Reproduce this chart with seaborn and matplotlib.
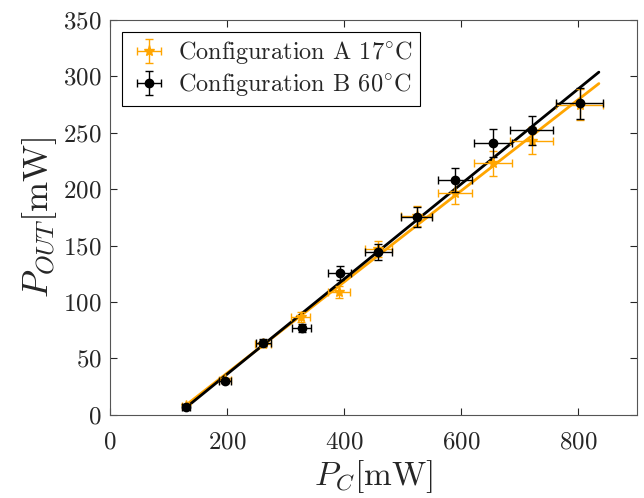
import numpy as np
import pandas as pd
import seaborn as sns
import matplotlib
matplotlib.use("Agg")
import matplotlib.pyplot as plt

# Data
pc_a = [129, 196, 261, 326, 391, 458, 524, 589, 654, 720, 802]
pout_a = [8, 31, 63, 87, 109, 147, 176, 197, 223, 243, 275]
xerr_a = [6.5, 9.8, 13.1, 16.3, 19.6, 22.9, 26.2, 29.5, 32.7, 36.0, 40.1]
yerr_a = [0.4, 1.6, 3.2, 4.4, 5.5, 7.4, 8.8, 9.9, 11.2, 12.2, 13.8]

pc_b = [130, 196, 262, 327, 392, 458, 524, 589, 654, 720, 802]
pout_b = [7, 30, 64, 77, 126, 144, 175, 208, 241, 252, 276]
xerr_b = [6.5, 9.8, 13.1, 16.4, 19.6, 22.9, 26.2, 29.5, 32.7, 36.0, 40.1]
yerr_b = [0.4, 1.5, 3.2, 3.9, 6.3, 7.2, 8.8, 10.4, 12.1, 12.6, 13.8]

labels = [r"Configuration A 17$^{\circ}$C", r"Configuration B 60$^{\circ}$C"]
xticks = [0, 200, 400, 600, 800]
yticks = [0, 50, 100, 150, 200, 250, 300, 350]

sns.set_style("ticks")
plt.rcParams["font.family"] = ["cmr10", "DejaVu Serif"]
plt.rcParams["mathtext.fontset"] = "cm"
plt.rcParams["axes.formatter.use_mathtext"] = True
plt.rcParams["xtick.direction"] = "in"
plt.rcParams["ytick.direction"] = "in"

fig = plt.figure(figsize=(6.44, 4.98), dpi=100)
ax = fig.add_axes([0.171, 0.167, 0.818, 0.793])

orange = "#FFA500"
# fit lines
xfit = np.linspace(125, 835, 50)
for pc, po, col in [(pc_a, pout_a, orange), (pc_b, pout_b, "black")]:
    k, b = np.polyfit(pc, po, 1)
    df = pd.DataFrame({"x": xfit, "y": k * xfit + b})
    sns.lineplot(data=df, x="x", y="y", color=col, lw=2, ax=ax, zorder=3)

ax.errorbar(pc_a, pout_a, xerr=xerr_a, yerr=yerr_a, fmt="*", color=orange,
            ms=8, capsize=3, elinewidth=1, label=labels[0], zorder=4)
ax.errorbar(pc_b, pout_b, xerr=xerr_b, yerr=yerr_b, fmt="o", color="black",
            ms=6, capsize=3, elinewidth=1, label=labels[1], zorder=5)

ax.set_xlim(0, 900)
ax.set_ylim(0, 350)
ax.set_xticks(xticks)
ax.set_yticks(yticks)
ax.tick_params(top=True, right=True, labelsize=18, length=5, width=0.8)
ax.tick_params(axis="x", pad=12)
ax.tick_params(axis="y", pad=6)
for s in ax.spines.values():
    s.set_color("#555555")
    s.set_linewidth(0.8)
ax.set_xlabel(r"$P_C$[mW]", fontsize=24, labelpad=3)
ax.set_ylabel(r"$P_{OUT}$[mW]", fontsize=26, labelpad=3)

leg = ax.legend(loc="upper left", fontsize=17.5, fancybox=False, frameon=True,
                edgecolor="black", framealpha=1, borderaxespad=0.5,
                handletextpad=0.4, borderpad=0.3, labelspacing=0.2,
                handlelength=1.6)
leg.get_frame().set_linewidth(0.8)

fig.savefig("out.png", dpi=100)
